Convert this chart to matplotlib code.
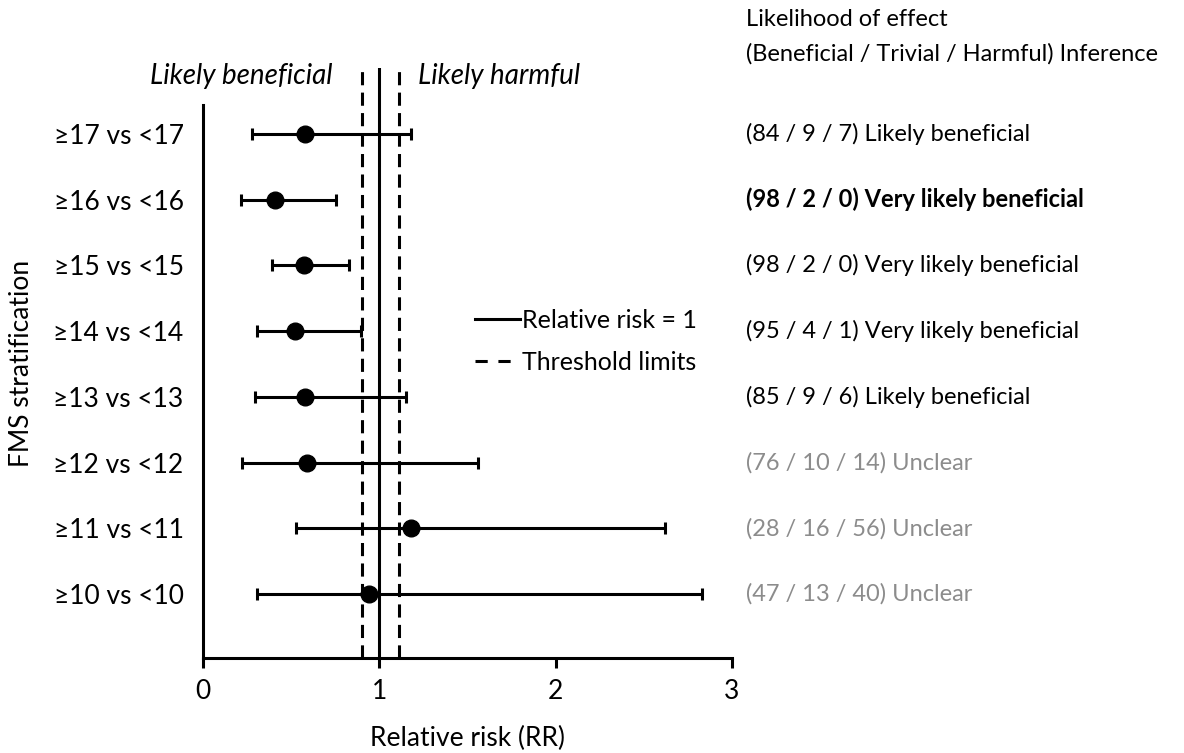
import numpy as np
import matplotlib
matplotlib.use("Agg")
import matplotlib.pyplot as plt
from matplotlib.lines import Line2D

plt.rcParams['font.family'] = ['Lato', 'DejaVu Sans']

# FMS stratification rows, top to bottom
groups = ["≥17 vs <17", "≥16 vs <16", "≥15 vs <15", "≥14 vs <14",
          "≥13 vs <13", "≥12 vs <12", "≥11 vs <11", "≥10 vs <10"]
rr = [0.58, 0.41, 0.57, 0.52, 0.58, 0.59, 1.18, 0.94]
ci_low = [0.28, 0.215, 0.39, 0.306, 0.295, 0.22, 0.53, 0.306]
ci_high = [1.18, 0.755, 0.83, 0.894, 1.15, 1.56, 2.62, 2.83]
inference = ["(84 / 9 / 7) Likely beneficial",
             "(98 / 2 / 0) Very likely beneficial",
             "(98 / 2 / 0) Very likely beneficial",
             "(95 / 4 / 1) Very likely beneficial",
             "(85 / 9 / 6) Likely beneficial",
             "(76 / 10 / 14) Unclear",
             "(28 / 16 / 56) Unclear",
             "(47 / 13 / 40) Unclear"]
bold_row = 1
thresholds = [0.9, 1.11]

dash = (0, (4.3, 2.4))

fig = plt.figure(figsize=(11.84, 7.53), dpi=100)
ax = fig.add_axes([203/1184, 1-658/753, (732-203)/1184, (658-68)/753])

ypos = np.arange(len(groups), 0, -1)
rr = np.array(rr)
err = [rr - np.array(ci_low), np.array(ci_high) - rr]

ax.axvline(1, color='black', lw=2.2, zorder=1)
for t in thresholds:
    ax.axvline(t, color='black', lw=2.2, ls=dash, zorder=1)

ax.errorbar(rr, ypos, xerr=err, fmt='o', color='black', ms=12,
            elinewidth=2.2, capsize=4, capthick=2.2, zorder=3)

ax.set_xlim(0, 3)
ax.set_ylim(0.03, 9.0)
ax.set_xticks([0, 1, 2, 3])
ax.set_yticks(ypos)
ax.set_yticklabels(groups, fontsize=19)
ax.tick_params(axis='y', length=0, pad=14)
ax.tick_params(axis='x', length=7, width=2.2, labelsize=19, pad=8)
for s in ['top', 'right']:
    ax.spines[s].set_visible(False)
ax.spines['left'].set_linewidth(2.2)
ax.spines['bottom'].set_linewidth(2.2)
ax.spines['left'].set_bounds(0.03, 8.43)

ax.set_xlabel("Relative risk (RR)", fontsize=19, labelpad=16)
ax.set_ylabel("FMS stratification", fontsize=19, labelpad=14)

ax.text(0.737, 8.88, "Likely beneficial", style='italic', fontsize=20,
        ha='right', va='center')
ax.text(1.22, 8.88, "Likely harmful", style='italic', fontsize=20,
        ha='left', va='center')

handles = [Line2D([], [], color='black', lw=2.2),
           Line2D([], [], color='black', lw=2.2, ls=(0, (4, 3.5)))]
ax.legend(handles, ["Relative risk = 1", "Threshold limits"], loc='upper left',
          bbox_to_anchor=(0.472, 0.63), frameon=False, fontsize=18,
          handlelength=1.8, handletextpad=0.08, labelspacing=0.75)

# inference column on the right
x_txt = 746/1184
for i, (y, s) in enumerate(zip(ypos, inference)):
    yf = ax.transData.transform((0, y))[1] / fig.bbox.height
    color = '#8c8c8c' if 'Unclear' in s else 'black'
    weight = 'bold' if i == bold_row else 'normal'
    fig.text(x_txt, yf, s, fontsize=17, color=color, weight=weight,
             ha='left', va='center')

fig.text(x_txt, 1-20/753, "Likelihood of effect", fontsize=17, ha='left', va='center')
fig.text(x_txt, 1-54/753, "(Beneficial / Trivial / Harmful) Inference", fontsize=17,
         ha='left', va='center')

fig.savefig("out.png", dpi=100)
